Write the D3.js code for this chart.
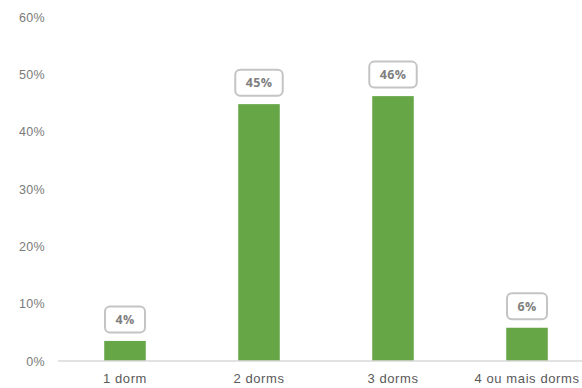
<!DOCTYPE html>
<html>
<head>
<meta charset="utf-8">
<script src="https://cdn.jsdelivr.net/npm/d3@7"></script>
<style>
  html, body { margin: 0; padding: 0; background: #fff; }
  svg { display: block; font-family: "Open Sans", "Lato", sans-serif; }
</style>
</head>
<body>
<svg id="chart" width="582" height="388"></svg>
<script>
// Share of units by number of bedrooms
const categories = ["1 dorm", "2 dorms", "3 dorms", "4 ou mais dorms"];
const shares = [3.5, 44.8, 46.2, 5.8];
const yTicks = [0, 10, 20, 30, 40, 50, 60];

const W = 582, H = 388;
const margin = { top: 17, right: 0, bottom: 27, left: 58 };

const svg = d3.select("#chart");

const x = d3.scaleBand()
  .domain(categories)
  .range([margin.left, margin.left + 134 * categories.length])
  .paddingInner(0.69)
  .paddingOuter(0.345);

const y = d3.scaleLinear()
  .domain([0, 60])
  .range([H - margin.bottom, margin.top]);

// y axis labels (no axis line)
const yAxis = svg.append("g")
  .attr("transform", `translate(${margin.left - 13},0)`)
  .call(d3.axisLeft(y).tickValues(yTicks).tickSize(0).tickPadding(0).tickFormat(d => d + "%"));
yAxis.select(".domain").remove();
yAxis.selectAll("text")
  .attr("fill", "#7a7a7a")
  .style("font-size", "12.5px")
  .style("font-weight", "300")
  .style("letter-spacing", "0.3px");

// bars
svg.append("g").selectAll("rect")
  .data(categories)
  .join("rect")
  .attr("x", d => x(d))
  .attr("width", x.bandwidth())
  .attr("y", (d, i) => y(shares[i]))
  .attr("height", (d, i) => y(0) - y(shares[i]))
  .attr("fill", "#66a646");

// baseline + category labels
const xAxis = svg.append("g")
  .attr("transform", `translate(0,${y(0)})`)
  .call(d3.axisBottom(x).tickSize(0).tickPadding(13));
xAxis.select(".domain")
  .attr("d", `M${margin.left},0H${W}`)
  .attr("stroke", "#d9d9d9")
  .attr("stroke-width", 1.5);
xAxis.selectAll("text")
  .attr("fill", "#595959")
  .style("font-size", "13px")
  .style("font-weight", "300")
  .style("letter-spacing", "0.6px");

// value labels in rounded boxes
const labels = svg.append("g").selectAll("g")
  .data(categories)
  .join("g")
  .attr("transform", (d, i) => `translate(${x(d) + x.bandwidth() / 2},${y(shares[i]) - 21.5})`);

labels.append("text")
  .attr("text-anchor", "middle")
  .attr("dy", "0.35em")
  .attr("fill", "#7f7f7f")
  .style("font-size", "12.5px")
  .style("font-weight", "700")
  .style("letter-spacing", "0.3px")
  .text((d, i) => Math.round(shares[i]) + "%");

labels.each(function () {
  const g = d3.select(this);
  const bb = g.select("text").node().getBBox();
  const padX = 10.5;
  g.insert("rect", "text")
    .attr("x", bb.x - padX)
    .attr("y", -13)
    .attr("width", bb.width + padX * 2)
    .attr("height", 26)
    .attr("rx", 5)
    .attr("fill", "#fff")
    .attr("stroke", "#c4c4c4")
    .attr("stroke-width", 2);
});
</script>
</body>
</html>
